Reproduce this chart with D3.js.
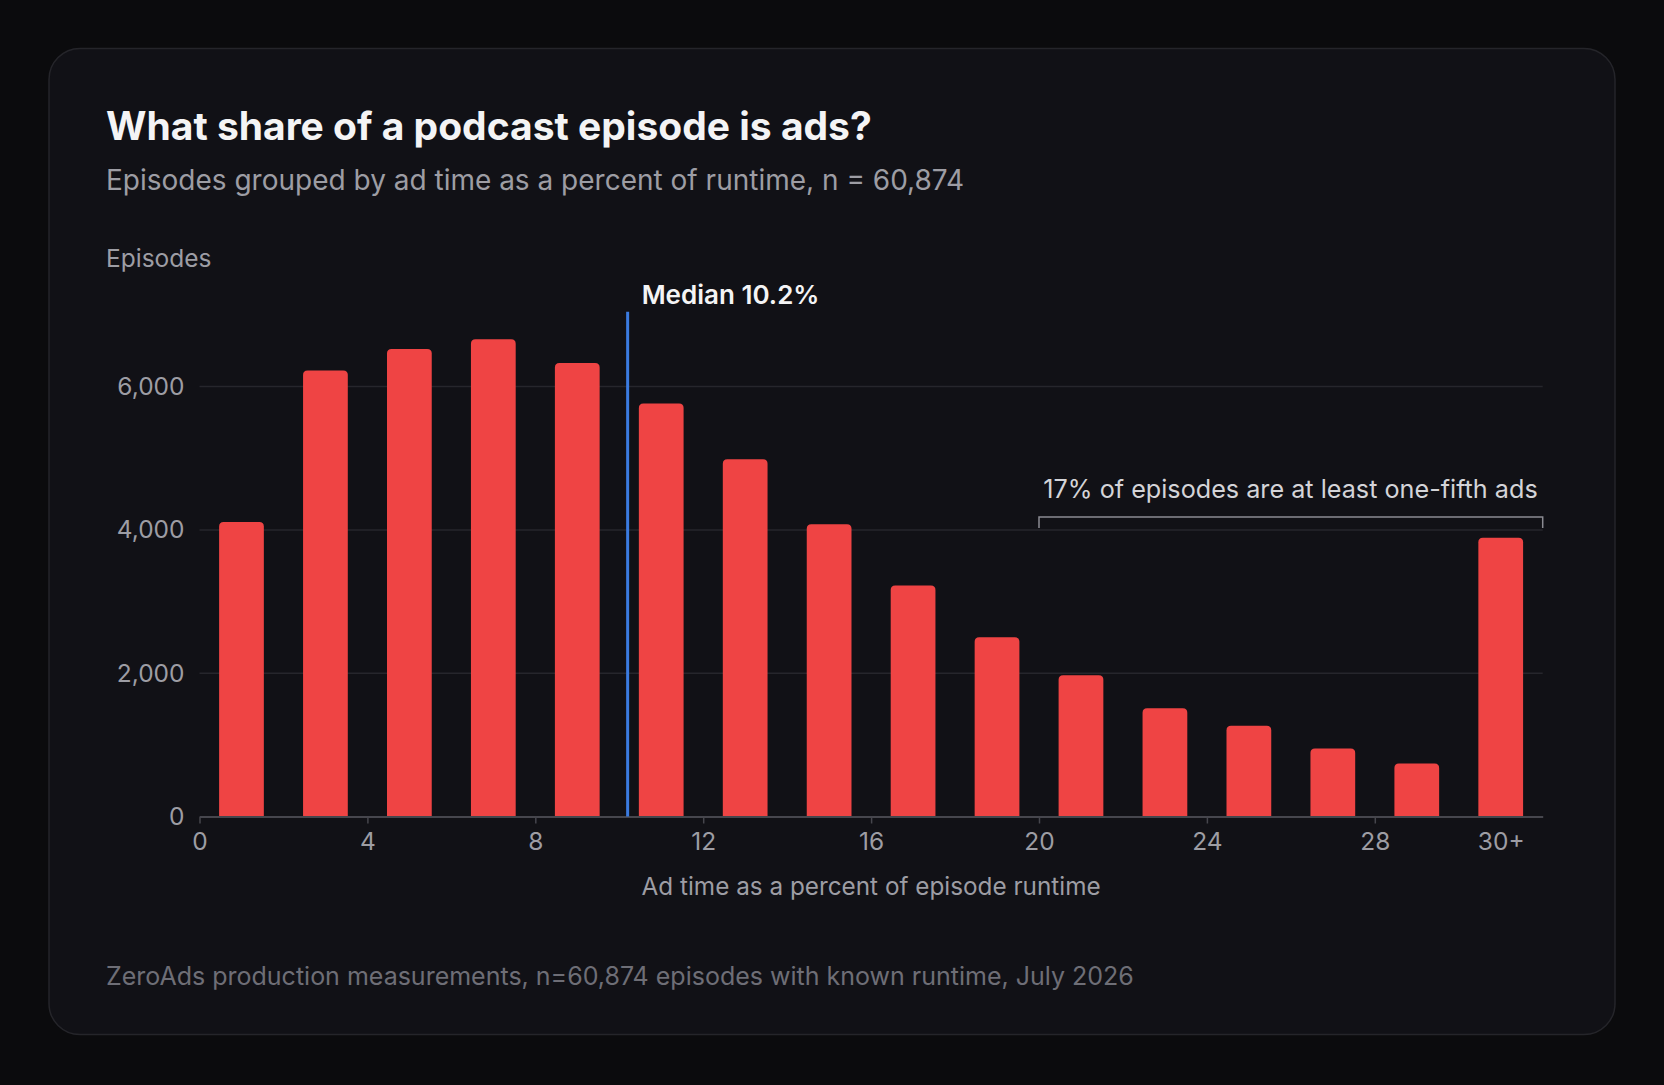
<!DOCTYPE html>
<html>
<head>
<meta charset="utf-8">
<script src="https://cdn.jsdelivr.net/npm/d3@7"></script>
<style>
  html, body { margin: 0; padding: 0; background: #0b0b0d; }
  svg { display: block; font-family: Inter, "Noto Sans", sans-serif; }
</style>
</head>
<body>
<script>
// Page size
const outerWidth = 1664, outerHeight = 1085;

// Histogram bins: ad time as % of runtime, 2-point wide bins, last bin is 30+
const binStarts = [0, 2, 4, 6, 8, 10, 12, 14, 16, 18, 20, 22, 24, 26, 28, 30];
const episodes  = [4110, 6225, 6525, 6660, 6330, 5765, 4985, 4080, 3225, 2500, 1970, 1510, 1265, 950, 740, 3890];
const xTickValues = [0, 4, 8, 12, 16, 20, 24, 28, 31];
const xTickLabels = ["0", "4", "8", "12", "16", "20", "24", "28", "30+"];
const yTickValues = [0, 2000, 4000, 6000];
const medianValue = 10.2;
const bracketRange = [20, 32];

// Plot box
const margin = {left: 199.5, right: 1664 - 1542.7, top: 311.7, bottom: 1085 - 816.5};
const innerWidth = outerWidth - margin.left - margin.right;
const innerHeight = outerHeight - margin.top - margin.bottom;

const svg = d3.select("body")
    .append("svg")
    .attr("width", outerWidth)
    .attr("height", outerHeight);

// Card
svg.append("rect")
    .attr("x", 49).attr("y", 48.5)
    .attr("width", 1566).attr("height", 986)
    .attr("rx", 31)
    .attr("fill", "#111116")
    .attr("stroke", "#25252a")
    .attr("stroke-width", 1.5);

// Titles
svg.append("text")
    .attr("x", 106).attr("y", 140)
    .attr("fill", "#f4f4f5")
    .attr("font-size", 39).attr("font-weight", 700)
    .text("What share of a podcast episode is ads?");
svg.append("text")
    .attr("x", 106).attr("y", 190)
    .attr("fill", "#9d9da4")
    .attr("font-size", 28)
    .text("Episodes grouped by ad time as a percent of runtime, n = 60,874");
svg.append("text")
    .attr("x", 106).attr("y", 266.5)
    .attr("fill", "#9d9da4")
    .attr("font-size", 24.5)
    .text("Episodes");

const render = svg.append("g")
    .attr("transform", `translate(${margin.left}, ${margin.top})`);

// Scales
let x = d3.scaleLinear()
    .domain([0, 32])
    .range([0, innerWidth]);
let y = d3.scaleLinear()
    .domain([0, 7045])
    .range([innerHeight, 0]);

// Gridlines
render.append("g")
    .selectAll("line")
    .data(yTickValues.filter(d => d > 0))
    .join("line")
    .attr("x1", 0).attr("x2", innerWidth)
    .attr("y1", d => y(d)).attr("y2", d => y(d))
    .attr("stroke", "#26262c")
    .attr("stroke-width", 1.5);

// Y axis (labels only)
const yAxis = render.append("g")
    .call(d3.axisLeft(y).tickValues(yTickValues).tickFormat(d3.format(",")).tickSize(0).tickPadding(15));
yAxis.select(".domain").remove();
yAxis.selectAll("text")
    .attr("fill", "#9d9da4")
    .attr("font-size", 24.5)
    .attr("font-family", "Inter, sans-serif");

// Bars
const binW = x(2) - x(0);
const barW = binW * 0.533;
render.append("g")
    .selectAll("path")
    .data(binStarts.map((s, i) => ({x0: s, v: episodes[i]})))
    .join("path")
    .attr("fill", "#ef4444")
    .attr("d", d => {
        const bx = x(d.x0) + (binW - barW) / 2;
        const by = y(d.v);
        const h = y(0) - by;
        const r = 4.5;
        return `M${bx},${by + h}V${by + r}Q${bx},${by} ${bx + r},${by}H${bx + barW - r}Q${bx + barW},${by} ${bx + barW},${by + r}V${by + h}Z`;
    });

// X axis
const xAxis = render.append("g")
    .attr("transform", `translate(0, ${innerHeight})`)
    .call(d3.axisBottom(x)
        .tickValues(xTickValues)
        .tickFormat((d, i) => xTickLabels[i])
        .tickSize(7)
        .tickSizeOuter(0)
        .tickPadding(9));
xAxis.select(".domain").attr("stroke", "#46464d").attr("stroke-width", 2);
xAxis.selectAll(".tick line")
    .attr("stroke", "#46464d").attr("stroke-width", 1.5)
    .attr("opacity", (d) => d === 31 ? 0 : 1);
xAxis.selectAll("text")
    .attr("fill", "#9d9da4")
    .attr("font-size", 24.5)
    .attr("font-family", "Inter, sans-serif");

// X axis title
render.append("text")
    .attr("x", innerWidth / 2)
    .attr("y", innerHeight + 79)
    .attr("text-anchor", "middle")
    .attr("fill", "#9d9da4")
    .attr("font-size", 24.3)
    .text("Ad time as a percent of episode runtime");

// Median line
render.append("line")
    .attr("x1", x(medianValue)).attr("x2", x(medianValue))
    .attr("y1", y(0)).attr("y2", 0)
    .attr("stroke", "#3b7be0")
    .attr("stroke-width", 3);
render.append("text")
    .attr("x", x(medianValue) + 14)
    .attr("y", -8)
    .attr("fill", "#f4f4f5")
    .attr("font-size", 26)
    .attr("font-weight", 600)
    .text(`Median ${medianValue}%`);

// Bracket over 20%+ bins
const bTop = y(4000) - 13;
render.append("path")
    .attr("fill", "none")
    .attr("stroke", "#8b8b92")
    .attr("stroke-width", 1.5)
    .attr("d", `M${x(bracketRange[0])},${bTop + 11}V${bTop}H${x(bracketRange[1])}V${bTop + 11}`);
render.append("text")
    .attr("x", x(bracketRange[1]) - 5)
    .attr("y", bTop - 19)
    .attr("text-anchor", "end")
    .attr("fill", "#d4d4d8")
    .attr("font-size", 25.2)
    .text("17% of episodes are at least one-fifth ads");

// Footer
svg.append("text")
    .attr("x", 106).attr("y", 985)
    .attr("fill", "#6e6e76")
    .attr("font-size", 25)
    .text("ZeroAds production measurements, n=60,874 episodes with known runtime, July 2026");
</script>
</body>
</html>
